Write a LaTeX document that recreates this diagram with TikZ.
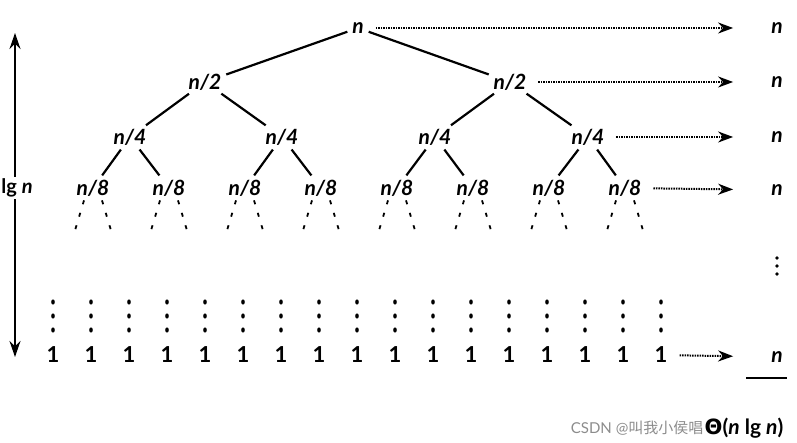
\documentclass[tikz,border=0pt]{standalone}
\usepackage{fontspec}
\setmainfont{Lato}
\newfontfamily\cjkfont{Noto Sans CJK SC}
\newfontfamily\greekfont{DejaVu Sans}
\usetikzlibrary{arrows.meta}

\begin{document}
\begin{tikzpicture}[x=1pt, y=-1pt, >=Stealth,
  lbl/.style={font=\fontsize{21}{24}\selectfont\bfseries\itshape, inner sep=1pt},
  one/.style={font=\fontsize{22}{24}\selectfont\bfseries, inner sep=1pt},
  edge/.style={line width=2.2pt, shorten <=4pt, shorten >=4pt},
  cost/.style={dash pattern=on 1.5pt off 1pt, line width=2pt, shorten <=11pt, shorten >=37pt,
    -{Stealth[length=15pt,width=11pt]}},
  sub/.style={line width=1.8pt, dash pattern=on 4pt off 9pt}]
  \useasboundingbox (0,0) rectangle (797,443);
  % the tree
  \node[lbl] (r) at (358,28) {n};
  \node[lbl] (a1) at (205,82) {n/2};
  \node[lbl] (a2) at (510,82) {n/2};
  \foreach \i/\x in {1/130,2/282,3/435,4/588}
    \node[lbl] (b\i) at (\x,137) {n/4};
  \foreach \i in {1,...,8}
    \node[lbl] (c\i) at ({17+76*\i},188) {n/8};
  \foreach \p/\c in {r/a1,r/a2,a1/b1,a1/b2,a2/b3,a2/b4,b1/c1,b1/c2,b2/c3,b2/c4,b3/c5,b3/c6,b4/c7,b4/c8}
    \draw[edge] (\p) -- (\c);
  \foreach \i in {1,...,8} {
    \draw[sub] (c\i.south) ++(-9,3) -- ++(-9,30);
    \draw[sub] (c\i.south) ++(9,3) -- ++(9,30);
  }
  % leaves
  \foreach \k in {0,...,16} {
    \node[one] (l\k) at ({53+38*\k},355) {1};
    \foreach \y in {302,316,330}
      \fill (l\k.center |- 0,\y) ellipse (1.8pt and 2.6pt);
  }
  % cost per level
  \foreach \i/\y in {1/28,2/82,3/137,4/190,5/357}
    \node[lbl] (s\i) at (777,\y) {n};
  \draw[cost] (r) -- (s1);
  \draw[cost] (a2) -- (s2);
  \draw[cost] (b4) -- (s3);
  \draw[cost] (c8) -- (s4);
  \draw[cost] (l16) -- (s5);
  \foreach \y in {258,266,274}
    \fill (777,\y) circle (1.8pt);
  \draw[line width=1.8pt] (s5.south) ++(-31,14) -- ++(41,0);
  \node[font=\fontsize{21}{24}\selectfont\bfseries, inner sep=1pt] (tot) at (744,428) {{\greekfont\bfseries Θ}(\textit{n} lg \textit{n})};
  % height
  \coordinate (top) at (15,33);
  \coordinate (bot) at (15,357);
  \draw[line width=1.8pt, {Stealth[length=16pt,width=11pt]}-{Stealth[length=16pt,width=11pt]}] (top) -- (bot);
  \node[fill=white, font=\fontsize{20}{24}\selectfont\bfseries, inner sep=2pt] (lg) at (17,188) {lg \textit{n}};
  % watermark
  \node[text=black!45, font=\fontsize{15}{18}\selectfont, anchor=east, inner sep=0pt] (wm) at (tot.west) {CSDN @{\cjkfont 叫我小侯唱}\ };
\end{tikzpicture}
\end{document}
